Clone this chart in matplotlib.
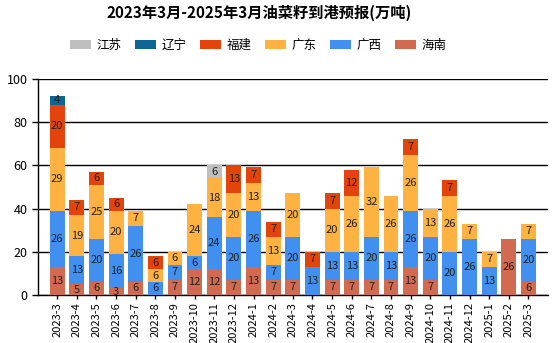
import matplotlib.pyplot as plt
import numpy as np

plt.rcParams['font.family'] = ['Noto Sans CJK SC', 'DejaVu Sans']

# months
months = ['2023-3', '2023-4', '2023-5', '2023-6', '2023-7', '2023-8', '2023-9',
          '2023-10', '2023-11', '2023-12', '2024-1', '2024-2', '2024-3', '2024-4',
          '2024-5', '2024-6', '2024-7', '2024-8', '2024-9', '2024-10', '2024-11',
          '2024-12', '2025-1', '2025-2', '2025-3']

# arrivals by port (10k tons), stacked bottom to top
hainan = [13, 5, 6, 3, 6, 0, 7, 12, 12, 7, 13, 7, 7, 0, 7, 7, 7, 7, 13, 7, 0, 0, 0, 26, 6]
guangxi = [26, 13, 20, 16, 26, 6, 7, 6, 24, 20, 26, 7, 20, 13, 13, 13, 20, 13, 26, 20, 20, 26, 13, 0, 20]
guangdong = [29, 19, 25, 20, 7, 6, 6, 24, 18, 20, 13, 13, 20, 0, 20, 26, 32, 26, 26, 13, 26, 7, 7, 0, 7]
fujian = [20, 7, 6, 6, 0, 6, 0, 0, 0, 13, 7, 7, 0, 7, 7, 12, 0, 0, 7, 0, 7, 0, 0, 0, 0]
liaoning = [4, 0, 0, 0, 0, 0, 0, 0, 0, 0, 0, 0, 0, 0, 0, 0, 0, 0, 0, 0, 0, 0, 0, 0, 0]
jiangsu = [0, 0, 0, 0, 0, 0, 0, 0, 6, 0, 0, 0, 0, 0, 0, 0, 0, 0, 0, 0, 0, 0, 0, 0, 0]

series = [('海南', hainan, '#d26a52'),
          ('广西', guangxi, '#4190f0'),
          ('广东', guangdong, '#fdb241'),
          ('福建', fujian, '#e3440c'),
          ('辽宁', liaoning, '#0e6493'),
          ('江苏', jiangsu, '#bfbfbf')]

fig = plt.figure(figsize=(5.52, 3.43), dpi=100)
ax = fig.add_axes([0.069, 0.140, 0.924, 0.630])

x = np.arange(len(months))
bottom = np.zeros(len(months))
handles = {}
for name, vals, color in series:
    vals = np.array(vals, dtype=float)
    bars = ax.bar(x, vals, 0.76, bottom=bottom, color=color, zorder=3)
    handles[name] = bars
    for xi, b, v in zip(x, bottom, vals):
        if v > 0:
            ax.text(xi, b + v / 2, f'{v:g}', ha='center', va='center',
                    fontsize=8, color='#222222', zorder=4)
    bottom += vals

ax.set_xlim(-0.97, 25.0)
ax.set_ylim(0, 100)
ax.set_yticks([0, 20, 40, 60, 80, 100])
ax.yaxis.grid(True, color='black', linewidth=1.0, zorder=0)
ax.set_xticks(x)
ax.set_xticklabels(months, rotation=90, fontsize=8)
ax.tick_params(axis='y', labelsize=9, length=4, width=1)
ax.tick_params(axis='x', length=3, width=1, pad=2)
for s in ['top', 'right']:
    ax.spines[s].set_visible(False)
ax.spines['left'].set_linewidth(1.0)
ax.spines['bottom'].set_linewidth(1.0)

order = ['江苏', '辽宁', '福建', '广东', '广西', '海南']
fig.legend([handles[n] for n in order], order, loc='center', bbox_to_anchor=(0.468, 0.868),
           ncol=6, frameon=False, fontsize=9, handlelength=1.7, handleheight=0.75,
           columnspacing=1.1, handletextpad=0.4)

fig.suptitle('2023年3月-2025年3月油菜籽到港预报(万吨)', x=0.47, y=0.985,
             fontsize=11, fontweight='bold')

fig.savefig('out.png', dpi=100)
